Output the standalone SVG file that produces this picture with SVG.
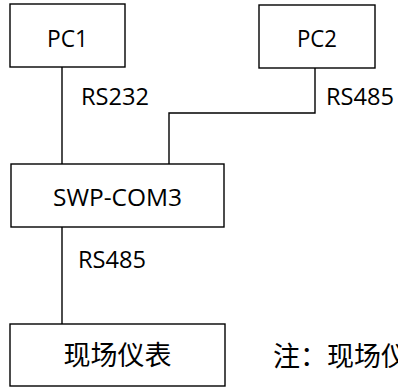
<svg xmlns="http://www.w3.org/2000/svg" width="398" height="387" viewBox="0 0 398 387">
<style>
.box{fill:#fff;stroke:#000;stroke-width:1.4}
.ln{fill:none;stroke:#000;stroke-width:1.4}
.t{font-family:"Open Sans","Noto Sans",sans-serif;font-size:24px;fill:#000}
.c{font-family:"Noto Sans CJK SC",sans-serif;font-size:27px;fill:#000}
.m{text-anchor:middle}
</style>
<rect width="398" height="387" fill="#fff"/>
<g id="connectors">
<line class="ln" x1="62" y1="67" x2="62" y2="164"/>
<polyline class="ln" points="315,68 315,113 169,113 169,168"/>
<line class="ln" x1="62" y1="227" x2="62" y2="324"/>
<text class="t" x="81" y="105" textLength="68" lengthAdjust="spacingAndGlyphs">RS232</text>
<text class="t" x="326" y="105" textLength="68" lengthAdjust="spacingAndGlyphs">RS485</text>
<text class="t" x="78" y="268" textLength="68" lengthAdjust="spacingAndGlyphs">RS485</text>
</g>
<g id="pc1">
<rect class="box" x="10" y="4" width="115" height="63"/>
<text class="t m" x="67.5" y="47" textLength="41" lengthAdjust="spacingAndGlyphs">PC1</text>
</g>
<g id="pc2">
<rect class="box" x="259" y="5" width="116" height="63"/>
<text class="t m" x="317" y="47" textLength="40" lengthAdjust="spacingAndGlyphs">PC2</text>
</g>
<g id="swp">
<rect class="box" x="11" y="164" width="213" height="63"/>
<text class="t m" x="117.5" y="206" textLength="129" lengthAdjust="spacingAndGlyphs">SWP-COM3</text>
</g>
<g id="field">
<rect class="box" x="10" y="324" width="215" height="62"/>
<text class="c m" x="117.5" y="365">现场仪表</text>
</g>
<text class="c" x="273" y="366">注：现场仪</text>
</svg>
